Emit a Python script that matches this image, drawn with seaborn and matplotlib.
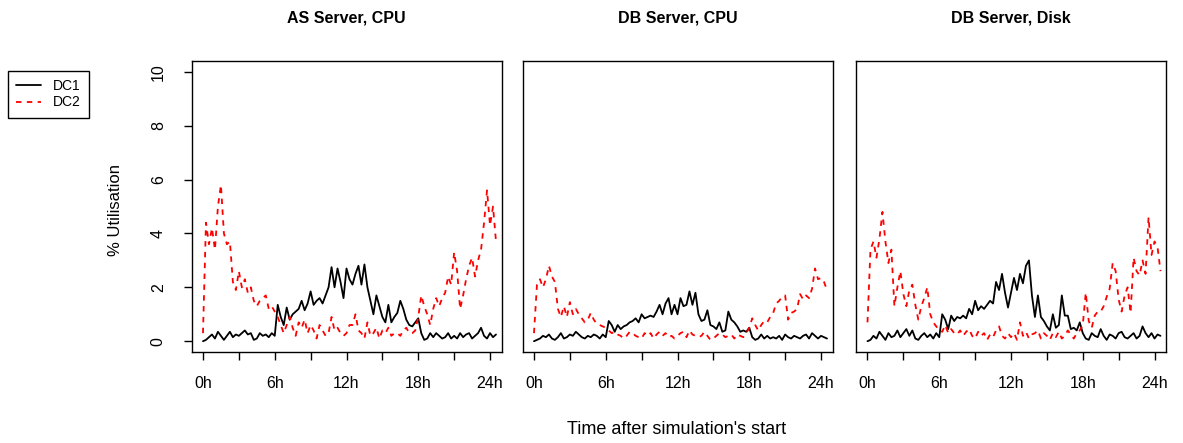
import numpy as np
import pandas as pd
import seaborn as sns
from matplotlib import pyplot as plt
from matplotlib.lines import Line2D

# time after start, in hours (one reading every 15 min)
time_h = np.arange(0, 24.75, 0.25)

panels = ["AS Server, CPU", "DB Server, CPU", "DB Server, Disk"]

as_cpu_dc1 = [
    0.0, 0.05, 0.15, 0.25,  0.1, 0.35, 0.2, 0.05,  0.2, 0.35, 0.15, 0.25,
    0.2, 0.3, 0.4, 0.25,  0.3, 0.05, 0.1, 0.3,  0.2, 0.25, 0.15, 0.3,
    0.2, 1.35, 0.9, 0.6,  1.25, 0.8, 1.0, 1.1,  1.2, 1.5, 1.15, 1.4,
    1.85, 1.35, 1.5, 1.6,  1.4, 1.7, 2.0, 2.75,  2.0, 2.7, 2.2, 1.6,
    2.7, 2.3, 2.1, 2.5,  2.8, 2.1, 2.85, 2.0,  1.5, 1.0, 1.7, 1.3,
    0.9, 0.7, 1.35, 0.7,  0.9, 1.05, 1.5, 1.2,  0.8, 0.6, 0.55, 0.7,
    0.85, 0.3, 0.05, 0.1,  0.3, 0.15, 0.3, 0.2,  0.1, 0.15, 0.3, 0.1,
    0.2, 0.1, 0.3, 0.15,  0.25, 0.3, 0.1, 0.2,  0.3, 0.5, 0.2, 0.1,
    0.3, 0.15, 0.25,
]
as_cpu_dc2 = [
    0.3, 4.4, 3.6, 4.2,  3.4, 5.0, 5.8, 4.0,  3.6, 3.7, 2.2, 1.9,
    2.6, 2.0, 2.3, 1.8,  2.0, 1.5, 1.3, 1.5,  1.6, 1.7, 1.2, 1.3,
    1.1, 0.9, 0.6, 0.3,  0.6, 0.9, 0.5, 0.2,  0.7, 0.5, 0.8, 0.3,
    0.6, 0.4, 0.1, 0.6,  0.4, 0.2, 0.3, 0.9,  0.4, 0.5, 0.3, 0.2,
    0.3, 0.6, 0.6, 1.0,  0.4, 0.3, 0.1, 0.7,  0.2, 0.3, 0.5, 0.1,
    0.4, 0.3, 0.5, 0.2,  0.3, 0.3, 0.2, 0.4,  0.5, 0.3, 0.3, 0.4,
    0.9, 1.7, 1.3, 1.0,  0.6, 1.2, 1.6, 1.3,  1.6, 1.8, 2.4, 2.1,
    3.3, 2.6, 1.2, 1.7,  2.3, 2.8, 3.1, 2.4,  3.0, 3.4, 4.4, 5.6,
    4.3, 5.0, 3.7,
]
db_cpu_dc1 = [
    0.0, 0.05, 0.1, 0.2,  0.15, 0.25, 0.1, 0.05,  0.15, 0.3, 0.1, 0.15,
    0.25, 0.2, 0.35, 0.25,  0.15, 0.1, 0.2, 0.15,  0.25, 0.2, 0.1, 0.25,
    0.15, 0.75, 0.6, 0.35,  0.6, 0.45, 0.55, 0.6,  0.7, 0.75, 0.85, 0.7,
    1.0, 0.85, 0.9, 0.95,  0.9, 1.1, 1.35, 1.0,  1.4, 1.6, 1.0, 1.35,
    1.0, 1.6, 1.3, 1.35,  1.85, 1.35, 1.8, 1.0,  0.75, 0.8, 1.15, 0.6,
    0.55, 0.45, 0.7, 0.35,  0.4, 1.1, 0.8, 0.7,  0.55, 0.35, 0.4, 0.35,
    0.5, 0.15, 0.05, 0.1,  0.25, 0.1, 0.2, 0.1,  0.15, 0.1, 0.2, 0.05,
    0.25, 0.15, 0.1, 0.2,  0.15, 0.1, 0.2, 0.25,  0.1, 0.3, 0.2, 0.1,
    0.2, 0.15, 0.1,
]
db_cpu_dc2 = [
    0.3, 2.1, 2.3, 2.0,  2.3, 2.8, 2.4, 2.2,  1.2, 0.9, 1.3, 0.9,
    1.45, 1.0, 1.2, 1.0,  0.85, 0.7, 0.8, 1.05,  0.8, 0.65, 0.6, 0.55,
    0.5, 0.4, 0.3, 0.35,  0.25, 0.2, 0.1, 0.2,  0.35, 0.3, 0.2, 0.15,
    0.1, 0.3, 0.2, 0.3,  0.1, 0.25, 0.35, 0.2,  0.3, 0.15, 0.2, 0.1,
    0.2, 0.3, 0.35, 0.15,  0.4, 0.25, 0.2, 0.15,  0.2, 0.35, 0.2, 0.05,
    0.1, 0.2, 0.3, 0.25,  0.15, 0.2, 0.25, 0.1,  0.25, 0.2, 0.15, 0.3,
    0.5, 0.85, 0.6, 0.4,  0.6, 0.75, 0.7, 0.9,  1.05, 1.4, 1.5, 1.65,
    1.7, 0.8, 1.05, 1.1,  1.2, 1.75, 1.55, 1.7,  1.6, 1.95, 2.7, 2.3,
    2.35, 2.2, 1.9,
]
db_disk_dc1 = [
    0.0, 0.05, 0.2, 0.1,  0.35, 0.2, 0.05, 0.3,  0.15, 0.2, 0.4, 0.15,
    0.3, 0.45, 0.2, 0.4,  0.1, 0.05, 0.2, 0.3,  0.15, 0.25, 0.1, 0.3,
    0.15, 1.0, 0.8, 0.45,  0.95, 0.75, 0.9, 0.85,  0.95, 0.85, 1.2, 1.0,
    1.5, 1.15, 1.3, 1.2,  1.35, 1.5, 1.4, 2.2,  1.9, 2.5, 1.8, 1.25,
    1.8, 2.35, 1.9, 2.5,  2.15, 2.8, 3.0, 1.7,  0.9, 1.7, 0.9, 0.75,
    0.55, 0.4, 1.0, 0.5,  0.6, 1.7, 0.95, 0.95,  0.45, 0.5, 0.4, 0.7,
    0.3, 0.1, 0.05, 0.3,  0.2, 0.15, 0.45, 0.2,  0.05, 0.25, 0.2, 0.1,
    0.3, 0.35, 0.15, 0.1,  0.2, 0.3, 0.1, 0.2,  0.55, 0.3, 0.15, 0.3,
    0.1, 0.25, 0.2,
]
db_disk_dc2 = [
    0.7, 3.4, 3.7, 3.1,  3.8, 4.8, 3.7, 2.9,  3.4, 1.3, 2.0, 2.6,
    1.75, 1.3, 1.9, 2.1,  1.35, 0.8, 1.3, 1.6,  2.0, 1.0, 0.7, 0.55,
    0.4, 0.35, 0.6, 0.3,  0.45, 0.3, 0.25, 0.4,  0.2, 0.35, 0.45, 0.2,
    0.1, 0.35, 0.2, 0.3,  0.05, 0.25, 0.15, 0.4,  0.55, 0.2, 0.1, 0.3,
    0.15, 0.3, 0.05, 0.7,  0.2, 0.35, 0.1, 0.25,  0.3, 0.4, 0.1, 0.3,
    0.2, 0.05, 0.3, 0.15,  0.35, 0.1, 0.2, 0.4,  0.25, 0.1, 0.3, 0.4,
    0.6, 1.8, 0.75, 0.5,  0.95, 1.1, 1.1, 1.3,  1.65, 1.95, 2.9, 2.6,
    1.55, 1.1, 1.7, 2.0,  1.05, 3.1, 2.6, 2.45,  3.0, 2.5, 4.6, 3.2,
    3.7, 3.5, 2.6,
]

series = {
    panels[0]: (as_cpu_dc1, as_cpu_dc2),
    panels[1]: (db_cpu_dc1, db_cpu_dc2),
    panels[2]: (db_disk_dc1, db_disk_dc2),
}

xticks = [0, 3, 6, 9, 12, 15, 18, 21, 24]
xticklabels = ["0h", "", "6h", "", "12h", "", "18h", "", "24h"]
yticks = [0, 2, 4, 6, 8, 10]

sns.set_style("ticks")
plt.rcParams["font.family"] = ["Liberation Sans", "DejaVu Sans"]
plt.rcParams["axes.edgecolor"] = "black"
plt.rcParams["axes.linewidth"] = 1.0
plt.rcParams["text.color"] = "black"

W, H = 1183, 443
fig = plt.figure(figsize=(W / 100, H / 100), dpi=100)

lefts = [191.5, 522.5, 856]
top, bottom, width = 61, 352, 310
palette = {"DC1": "black", "DC2": "red"}
dashes = {"DC1": "", "DC2": (3, 3)}

for k, name in enumerate(panels):
    dc1, dc2 = series[name]
    df = pd.DataFrame({
        "time": np.concatenate([time_h, time_h]),
        "util": dc1 + dc2,
        "dc": ["DC1"] * len(dc1) + ["DC2"] * len(dc2),
    })
    ax = fig.add_axes([lefts[k] / W, (H - bottom) / H, width / W, (bottom - top) / H])
    sns.lineplot(data=df, x="time", y="util", hue="dc", style="dc",
                 palette=palette, dashes=dashes, linewidth=1.3,
                 legend=False, ax=ax)
    ax.set_xlim(-0.96, 24.96)
    ax.set_ylim(-0.4, 10.4)
    ax.set_xlabel("")
    ax.set_ylabel("")
    ax.set_xticks(xticks)
    ax.set_xticklabels(xticklabels, fontsize=11.5)
    ax.tick_params(axis="x", bottom=True, direction="out", length=5.5,
                   width=1, pad=12, color="black", labelcolor="black")
    if k == 0:
        ax.set_yticks(yticks)
        ax.set_yticklabels([str(v) for v in yticks], fontsize=11.5,
                           rotation=90, va="center")
        ax.tick_params(axis="y", left=True, direction="out", length=5.5,
                       width=1, pad=13, color="black", labelcolor="black")
    else:
        ax.set_yticks([])
    for s in ax.spines.values():
        s.set_visible(True)
        s.set_color("black")
    cx = (lefts[k] + width / 2) / W
    fig.text(cx, 1 - 18 / H, name, ha="center", va="center",
             fontsize=11.5, fontweight="bold")

fig.text(677 / W, 1 - 430 / H, "Time after simulation's start",
         ha="center", va="center", fontsize=13)
fig.text(115 / W, 1 - 210 / H, "% Utilisation",
         ha="center", va="center", rotation=90, fontsize=12)

handles = [
    Line2D([], [], color="black", linewidth=1.3, label="DC1"),
    Line2D([], [], color="red", linewidth=1.3, dashes=(3, 3), label="DC2"),
]
leg = fig.legend(handles=handles, loc="upper left",
                 bbox_to_anchor=(8 / W, 1 - 71 / H), borderaxespad=0,
                 fontsize=10, frameon=True, fancybox=False,
                 edgecolor="black", framealpha=1, handlelength=1.8,
                 labelspacing=0.15, borderpad=0.6, handletextpad=0.8)
leg.get_frame().set_linewidth(1.0)

fig.savefig("out.png", dpi=100)
